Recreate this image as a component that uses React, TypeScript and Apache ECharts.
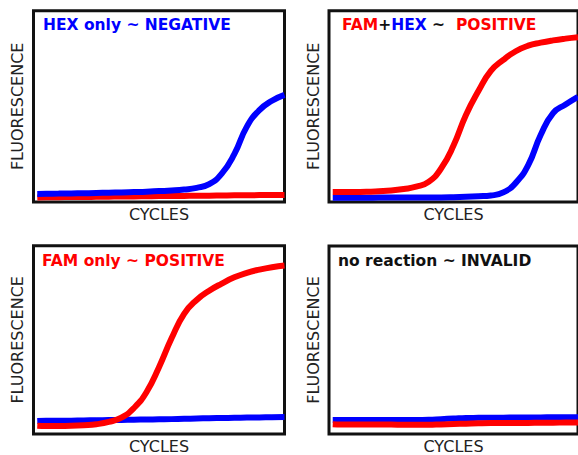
import React, { useEffect, useRef } from "react";
import * as echarts from "echarts";

// ---- data (x = cycle 0..40, y = fluorescence 0..100) ----
const cycles = [0.6, 2, 4, 6, 8, 10, 12, 14, 16, 18, 20, 22, 24, 26, 28, 30, 32, 34, 36, 38, 40];

const p1Blue = [4.2, 4.3, 4.4, 4.5, 4.6, 4.7, 4.9, 5.0, 5.2, 5.4, 5.7, 6.0, 6.5, 7.4, 9.3, 14.8, 25.0, 39.4, 48.0, 52.9, 56.0];
const p1Red = [2.4, 2.5, 2.5, 2.6, 2.6, 2.7, 2.8, 2.9, 2.9, 3.0, 3.1, 3.1, 3.2, 3.3, 3.3, 3.4, 3.5, 3.5, 3.6, 3.6, 3.7];

const p2Red = [5.2, 5.2, 5.2, 5.3, 5.6, 6.0, 6.8, 8.0, 10.5, 17.5, 29.5, 45.5, 58.0, 68.5, 74.3, 78.8, 81.7, 83.3, 84.5, 85.4, 86.1];
const p2Blue = [2.2, 2.2, 2.2, 2.2, 2.3, 2.3, 2.3, 2.4, 2.4, 2.4, 2.5, 2.7, 3.0, 3.4, 5.0, 10.0, 19.3, 35.0, 46.5, 51.0, 55.0];

const p3Red = [4.4, 4.3, 4.3, 4.4, 4.7, 5.2, 6.4, 8.7, 13.8, 22.2, 35.5, 50.8, 63.8, 71.2, 76.1, 79.9, 83.2, 85.6, 87.3, 88.6, 89.5];
const p3Blue = [6.9, 7.0, 7.0, 7.1, 7.2, 7.3, 7.4, 7.5, 7.6, 7.7, 7.8, 7.9, 8.1, 8.2, 8.4, 8.5, 8.6, 8.7, 8.8, 8.9, 9.0];

const p4Blue = [7.5, 7.5, 7.5, 7.5, 7.5, 7.5, 7.5, 7.5, 7.6, 7.9, 8.2, 8.5, 8.6, 8.7, 8.7, 8.8, 8.8, 8.8, 8.9, 8.9, 8.9];
const p4Red = [5.2, 5.1, 5.1, 5.0, 5.0, 5.0, 4.9, 4.9, 4.9, 5.1, 5.3, 5.5, 5.7, 5.8, 5.8, 5.9, 5.9, 6.0, 6.0, 6.1, 6.1];

const xAxisName = "CYCLES";
const yAxisName = "FLUORESCENCE";

const BLUE = "#0000ff";
const RED = "#ff0000";
const FONT = "DejaVu Sans";

const zip = (xs: number[], ys: number[]) => xs.map((x, i) => [x, ys[i]]);

export default function App() {
  const ref = useRef<HTMLDivElement>(null);
  useEffect(() => {
    if (!ref.current) return;
    const chart = echarts.init(ref.current, undefined, { renderer: "svg" });
    const grids = [
      { left: 33.5, top: 10.7, width: 251, height: 191.3 },
      { left: 329, top: 10.7, width: 251, height: 191.3 },
      { left: 33.5, top: 245.7, width: 251, height: 192 },
      { left: 329, top: 246, width: 251, height: 191.7 },
    ].map((g) => ({ ...g, show: true, borderColor: "#111", borderWidth: 3, backgroundColor: "transparent" }));

    const nameStyle = { fontFamily: FONT, fontSize: 16, color: "#222" };
    const xAxes = grids.map((_, i) => ({
      type: "value" as const, gridIndex: i, min: 0, max: 40,
      axisLine: { show: false }, axisTick: { show: false }, axisLabel: { show: false }, splitLine: { show: false },
      name: xAxisName, nameLocation: "middle" as const, nameGap: 4, nameTextStyle: { ...nameStyle, verticalAlign: "top" },
    }));
    const yAxes = grids.map((_, i) => ({
      type: "value" as const, gridIndex: i, min: 0, max: 100,
      axisLine: { show: false }, axisTick: { show: false }, axisLabel: { show: false }, splitLine: { show: false },
      name: yAxisName, nameLocation: "middle" as const, nameGap: 8, nameTextStyle: nameStyle,
    }));

    const line = (idx: number, ys: number[], color: string) => ({
      type: "line" as const, xAxisIndex: idx, yAxisIndex: idx, data: zip(cycles, ys),
      smooth: 0.5, showSymbol: false,
      lineStyle: { width: 6, color }, itemStyle: { color },
    });

    const titleStyle = { fontFamily: FONT, fontSize: 15.5, fontWeight: "bold" as const };
    chart.setOption({
      animation: false,
      grid: grids,
      xAxis: xAxes,
      yAxis: yAxes,
      title: [
        { text: "HEX only ~ NEGATIVE", left: 43, top: 16.5, padding: 0, textStyle: { ...titleStyle, color: BLUE } },
        {
          text: "{r|FAM}{k|+}{b|HEX}{k| ~  }{r|POSITIVE}", left: 342, top: 16.5, padding: 0,
          textStyle: {
            ...titleStyle,
            rich: {
              r: { ...titleStyle, color: RED },
              b: { ...titleStyle, color: BLUE },
              k: { ...titleStyle, color: "#111" },
            },
          },
        },
        { text: "FAM only ~ POSITIVE", left: 42, top: 252.5, padding: 0, textStyle: { ...titleStyle, color: RED } },
        { text: "no reaction ~ INVALID", left: 338, top: 252.5, padding: 0, textStyle: { ...titleStyle, color: "#111" } },
      ],
      series: [
        line(0, p1Red, RED),
        line(0, p1Blue, BLUE),
        line(1, p2Blue, BLUE),
        line(1, p2Red, RED),
        line(2, p3Blue, BLUE),
        line(2, p3Red, RED),
        line(3, p4Blue, BLUE),
        line(3, p4Red, RED),
      ],
    });
    return () => chart.dispose();
  }, []);
  return (
    <div
      ref={ref}
      style={{ position: "fixed", left: 0, top: 0, width: 578, height: 455, background: "#fff" }}
    />
  );
}
